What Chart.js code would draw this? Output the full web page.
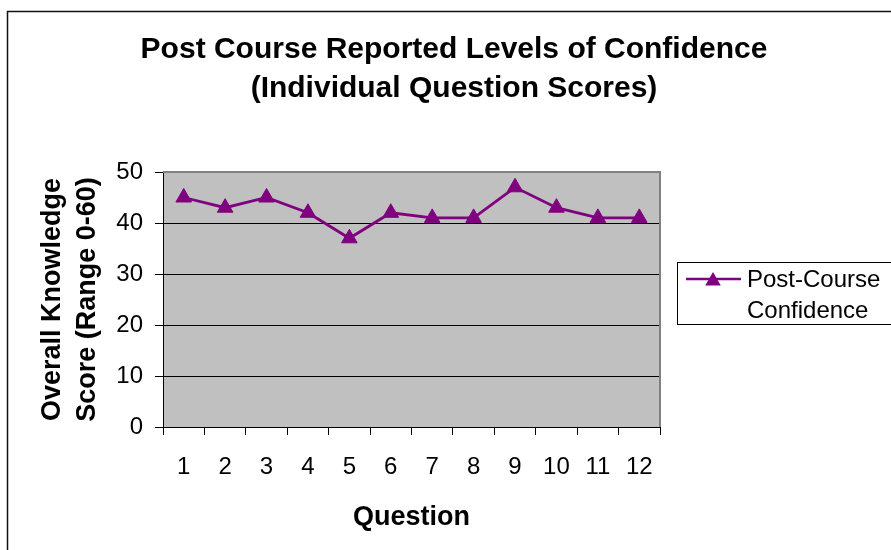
<!DOCTYPE html>
<html>
<head>
<meta charset="utf-8">
<script src="https://cdn.jsdelivr.net/npm/chart.js@4.4.1/dist/chart.umd.min.js"></script>
<style>
  body { margin: 0; background: #fff; }
  #wrap { width: 891px; height: 550px; }
</style>
</head>
<body>
<div id="wrap"><canvas id="chart" width="891" height="550"></canvas></div>
<script>
const questions = ["1", "2", "3", "4", "5", "6", "7", "8", "9", "10", "11", "12"];
const confidence = [45, 43, 45, 42, 37, 42, 41, 41, 47, 43, 41, 41];
const yTicks = [0, 10, 20, 30, 40, 50];

const FONT = "'Liberation Sans', Arial, sans-serif";
const purple = "#800080";

// grey plot background + top/right border, like the old Excel look
const plotArea = {
  id: "plotArea",
  beforeDraw(chart) {
    const { ctx, chartArea: a } = chart;
    ctx.save();
    ctx.fillStyle = "#c0c0c0";
    ctx.fillRect(a.left, a.top, a.right - a.left, a.bottom - a.top);
    ctx.restore();
  },
  beforeDatasetsDraw(chart) {
    const { ctx, chartArea: a } = chart;
    ctx.save();
    ctx.strokeStyle = "#808080";
    ctx.lineWidth = 2;
    ctx.beginPath();
    ctx.moveTo(a.left, a.top);
    ctx.lineTo(a.right, a.top);
    ctx.lineTo(a.right, a.bottom);
    ctx.stroke();
    ctx.restore();
  },
  afterDraw(chart) {
    const { ctx } = chart;
    ctx.save();
    // outer frame
    ctx.strokeStyle = "#111";
    ctx.lineWidth = 1.5;
    ctx.strokeRect(7.5, 11.5, 900, 560);

    // legend box
    const ds = chart.data.datasets[0];
    ctx.fillStyle = "#fff";
    ctx.fillRect(677, 262, 220, 62);
    ctx.strokeStyle = "#000";
    ctx.lineWidth = 1;
    ctx.strokeRect(677.5, 262.5, 220, 62);

    ctx.strokeStyle = ds.borderColor;
    ctx.lineWidth = 2.5;
    ctx.beginPath();
    ctx.moveTo(686, 279);
    ctx.lineTo(741, 279);
    ctx.stroke();

    const r = 9, cx = 713, cy = 281;
    ctx.fillStyle = ds.pointBackgroundColor;
    ctx.beginPath();
    ctx.moveTo(cx, cy - r);
    ctx.lineTo(cx + r * 0.866, cy + r / 2);
    ctx.lineTo(cx - r * 0.866, cy + r / 2);
    ctx.closePath();
    ctx.fill();

    ctx.fillStyle = "#000";
    ctx.font = "24px " + FONT;
    ctx.textBaseline = "middle";
    ctx.textAlign = "left";
    ds.label.forEach((t, i) => ctx.fillText(t, 747, 280 + i * 31));
    ctx.restore();
  }
};

new Chart(document.getElementById("chart"), {
  type: "line",
  data: {
    labels: questions,
    datasets: [{
      label: ["Post-Course", "Confidence"],
      data: confidence,
      borderColor: purple,
      backgroundColor: purple,
      pointBackgroundColor: purple,
      pointBorderColor: purple,
      borderWidth: 2.8,
      pointStyle: "triangle",
      pointRadius: 9,
      pointBorderWidth: 1,
      tension: 0,
      clip: false
    }]
  },
  options: {
    responsive: false,
    animation: false,
    layout: { padding: { left: 17, right: 0, top: 0, bottom: 0 } },
    plugins: {
      legend: { display: false },
      tooltip: { enabled: false },
      title: {
        display: true,
        text: ["Post Course Reported Levels of Confidence", "(Individual Question Scores)"],
        color: "#000",
        font: { family: FONT, size: 30, weight: "bold", lineHeight: 1.3 },
        padding: { top: 30, bottom: 64 }
      }
    },
    scales: {
      x: {
        offset: true,
        grid: {
          offset: true,
          drawOnChartArea: false,
          drawTicks: true,
          tickLength: 8,
          tickColor: "#000"
        },
        border: { color: "#000", width: 1 },
        ticks: { color: "#000", font: { family: FONT, size: 24 }, padding: 18, maxRotation: 0, autoSkip: false },
        title: {
          display: true,
          text: "Question",
          color: "#000",
          font: { family: FONT, size: 27, weight: "bold", lineHeight: 1.2 },
          padding: { top: 0, bottom: 16 }
        },
        afterFit(scale) { scale.height = 123; }
      },
      y: {
        min: 0,
        max: 50,
        afterBuildTicks(scale) { scale.ticks = yTicks.map(v => ({ value: v })); },
        grid: {
          color: (c) => (c.tick && (c.tick.value === 0 || c.tick.value === 50)) ? "rgba(0,0,0,0)" : "#000",
          lineWidth: 1,
          tickLength: 8,
          tickColor: "#000"
        },
        border: { color: "#000", width: 1 },
        ticks: { color: "#000", font: { family: FONT, size: 24 }, padding: 12 },
        title: {
          display: true,
          text: ["Overall Knowledge", "Score (Range 0-60)"],
          color: "#000",
          font: { family: FONT, size: 27, weight: "bold", lineHeight: 1.3 },
          padding: { top: 18, bottom: 0 }
        },
        afterFit(scale) { scale.width = 146; }
      },
      spacer: {
        position: "right",
        display: true,
        grid: { display: false },
        border: { display: false },
        ticks: { display: false },
        afterFit(scale) { scale.width = 231; }
      }
    }
  },
  plugins: [plotArea]
});
</script>
</body>
</html>
